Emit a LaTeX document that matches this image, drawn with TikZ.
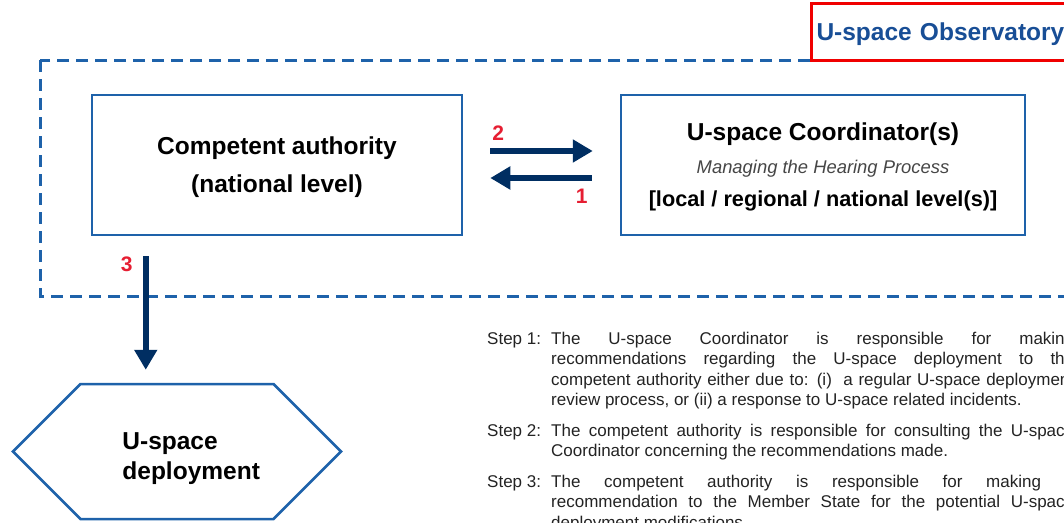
\documentclass[tikz,border=0pt]{standalone}
\usepackage{fontspec}
\setmainfont{Liberation Sans}
\usetikzlibrary{positioning,arrows.meta,calc,shapes.symbols}
\definecolor{easablue}{RGB}{30,98,170}
\definecolor{easanavy}{RGB}{0,46,98}
\definecolor{easatitle}{RGB}{24,78,150}
\definecolor{easared}{RGB}{230,30,50}
\definecolor{boxred}{RGB}{240,0,0}
\definecolor{textgray}{RGB}{70,70,70}
\definecolor{bodytext}{RGB}{35,35,35}
\tikzset{
obsframe/.style={
  draw=easablue, line width=3pt, dash pattern=on 12pt off 7pt
  },
obsbox/.style={
  draw=boxred, line width=3pt, fill=white, text=easatitle,
  font=\bfseries\fontsize{24.5}{30}\selectfont, text depth=0pt,
  minimum height=57pt, text width=270pt, inner xsep=5pt, align=left
  },
actor/.style={
  draw=easablue, line width=2.5pt, fill=white, text depth=0pt,
  align=center, text=black, minimum height=140pt
  },
deploy/.style={
  signal, signal to=east and west, signal pointer angle=90,
  draw=easablue, line width=2.5pt, fill=white,
  minimum width=328pt, minimum height=135pt, inner sep=0pt
  },
deptext/.style={
  align=left, inner sep=0pt, text=black,
  font=\bfseries\fontsize{24.5}{30}\selectfont
  },
flow/.style={
  draw=easanavy, line width=6.5pt,
  -{Triangle[length=20pt,width=22pt]}
  },
stepnum/.style={
  text=easared, inner sep=0pt,
  font=\bfseries\fontsize{21}{21}\selectfont
  },
steplabel/.style={
  anchor=base west, inner sep=0pt, text=bodytext,
  font=\fontsize{17}{20.5}\selectfont
  },
stepdesc/.style={
  anchor=base west, inner sep=0pt, text width=523pt, align=justify,
  text=bodytext, font=\fontsize{17}{20.5}\selectfont
  }
}
\begin{document}
\begin{tikzpicture}[x=1pt,y=-1pt]
\useasboundingbox (0,0) rectangle (1064,522);
\clip (0,0) rectangle (1064,522);

% observatory frame
\draw[obsframe] (40,60) rectangle (1120,296);
\node[obsbox, anchor=west] (obs) at (810,31.5) {U-space Observatory};

% actors
\node[actor, minimum width=370pt,
  font=\bfseries\fontsize{24.5}{38}\selectfont] (ca) at (277,165)
  {Competent authority\\(national level)};
\node[actor, minimum width=404pt,
  font=\bfseries\fontsize{24.5}{33}\selectfont] (uc) at (823,165)
  {U-space Coordinator(s)\\
   {\mdseries\itshape\fontsize{18.4}{33}\selectfont\color{textgray}Managing the Hearing Process}\\
   {\fontsize{21.7}{33}\selectfont[local / regional / national level(s)]}};

% recommendations back and forth
\coordinate (a2s) at ([xshift=27pt,yshift=14pt]ca.east);
\coordinate (a2e) at ([xshift=-27pt,yshift=14pt]uc.west);
\coordinate (a1s) at ([xshift=-28pt,yshift=-13pt]uc.west);
\coordinate (a1e) at ([xshift=27pt,yshift=-13pt]ca.east);
\draw[flow] (a2s) -- (a2e);
\draw[flow] (a1s) -- (a1e);
\node[stepnum] (n2) at ([xshift=8pt,yshift=18pt]a2s) {2};
\node[stepnum] (n1) at ([xshift=-10pt,yshift=-18pt]a1s) {1};

% deployment
\node[deploy] (dep) at (177,451.5) {};
\node[deptext, right=111pt of dep.west, yshift=-7pt] (deptxt) {U-space\\deployment};

\coordinate (a3s) at ([xshift=55pt,yshift=-20pt]ca.south west);
\draw[flow] (a3s) -- ($(a3s |- dep.north)+(0,-13)$);
\node[stepnum] (n3) at ([xshift=-19pt,yshift=-8pt]a3s) {3};

% step descriptions
\node[steplabel] (l1) at (487,344) {Step 1:};
\node[stepdesc] (s1) at ([xshift=64pt]l1.base west) {\hyphenpenalty=10000
  The U-space Coordinator is responsible for making\linebreak
  recommendations regarding the U-space deployment to the\linebreak
  competent authority either due to: (i)\ \ a regular U-space
  deployment\linebreak review process, or (ii) a response to U-space
  related incidents.};
\node[steplabel] (l2) at (487,436) {Step 2:};
\node[stepdesc] (s2) at ([xshift=64pt]l2.base west) {\hyphenpenalty=10000
  The competent authority is responsible for consulting the
  U-space\linebreak Coordinator concerning the recommendations made.};
\node[steplabel] (l3) at (487,487) {Step 3:};
\node[stepdesc] (s3) at ([xshift=64pt]l3.base west) {\hyphenpenalty=10000
  The competent authority is responsible for making a\linebreak
  recommendation to the Member State for the potential U-space\linebreak
  deployment modifications.};
\end{tikzpicture}
\end{document}
